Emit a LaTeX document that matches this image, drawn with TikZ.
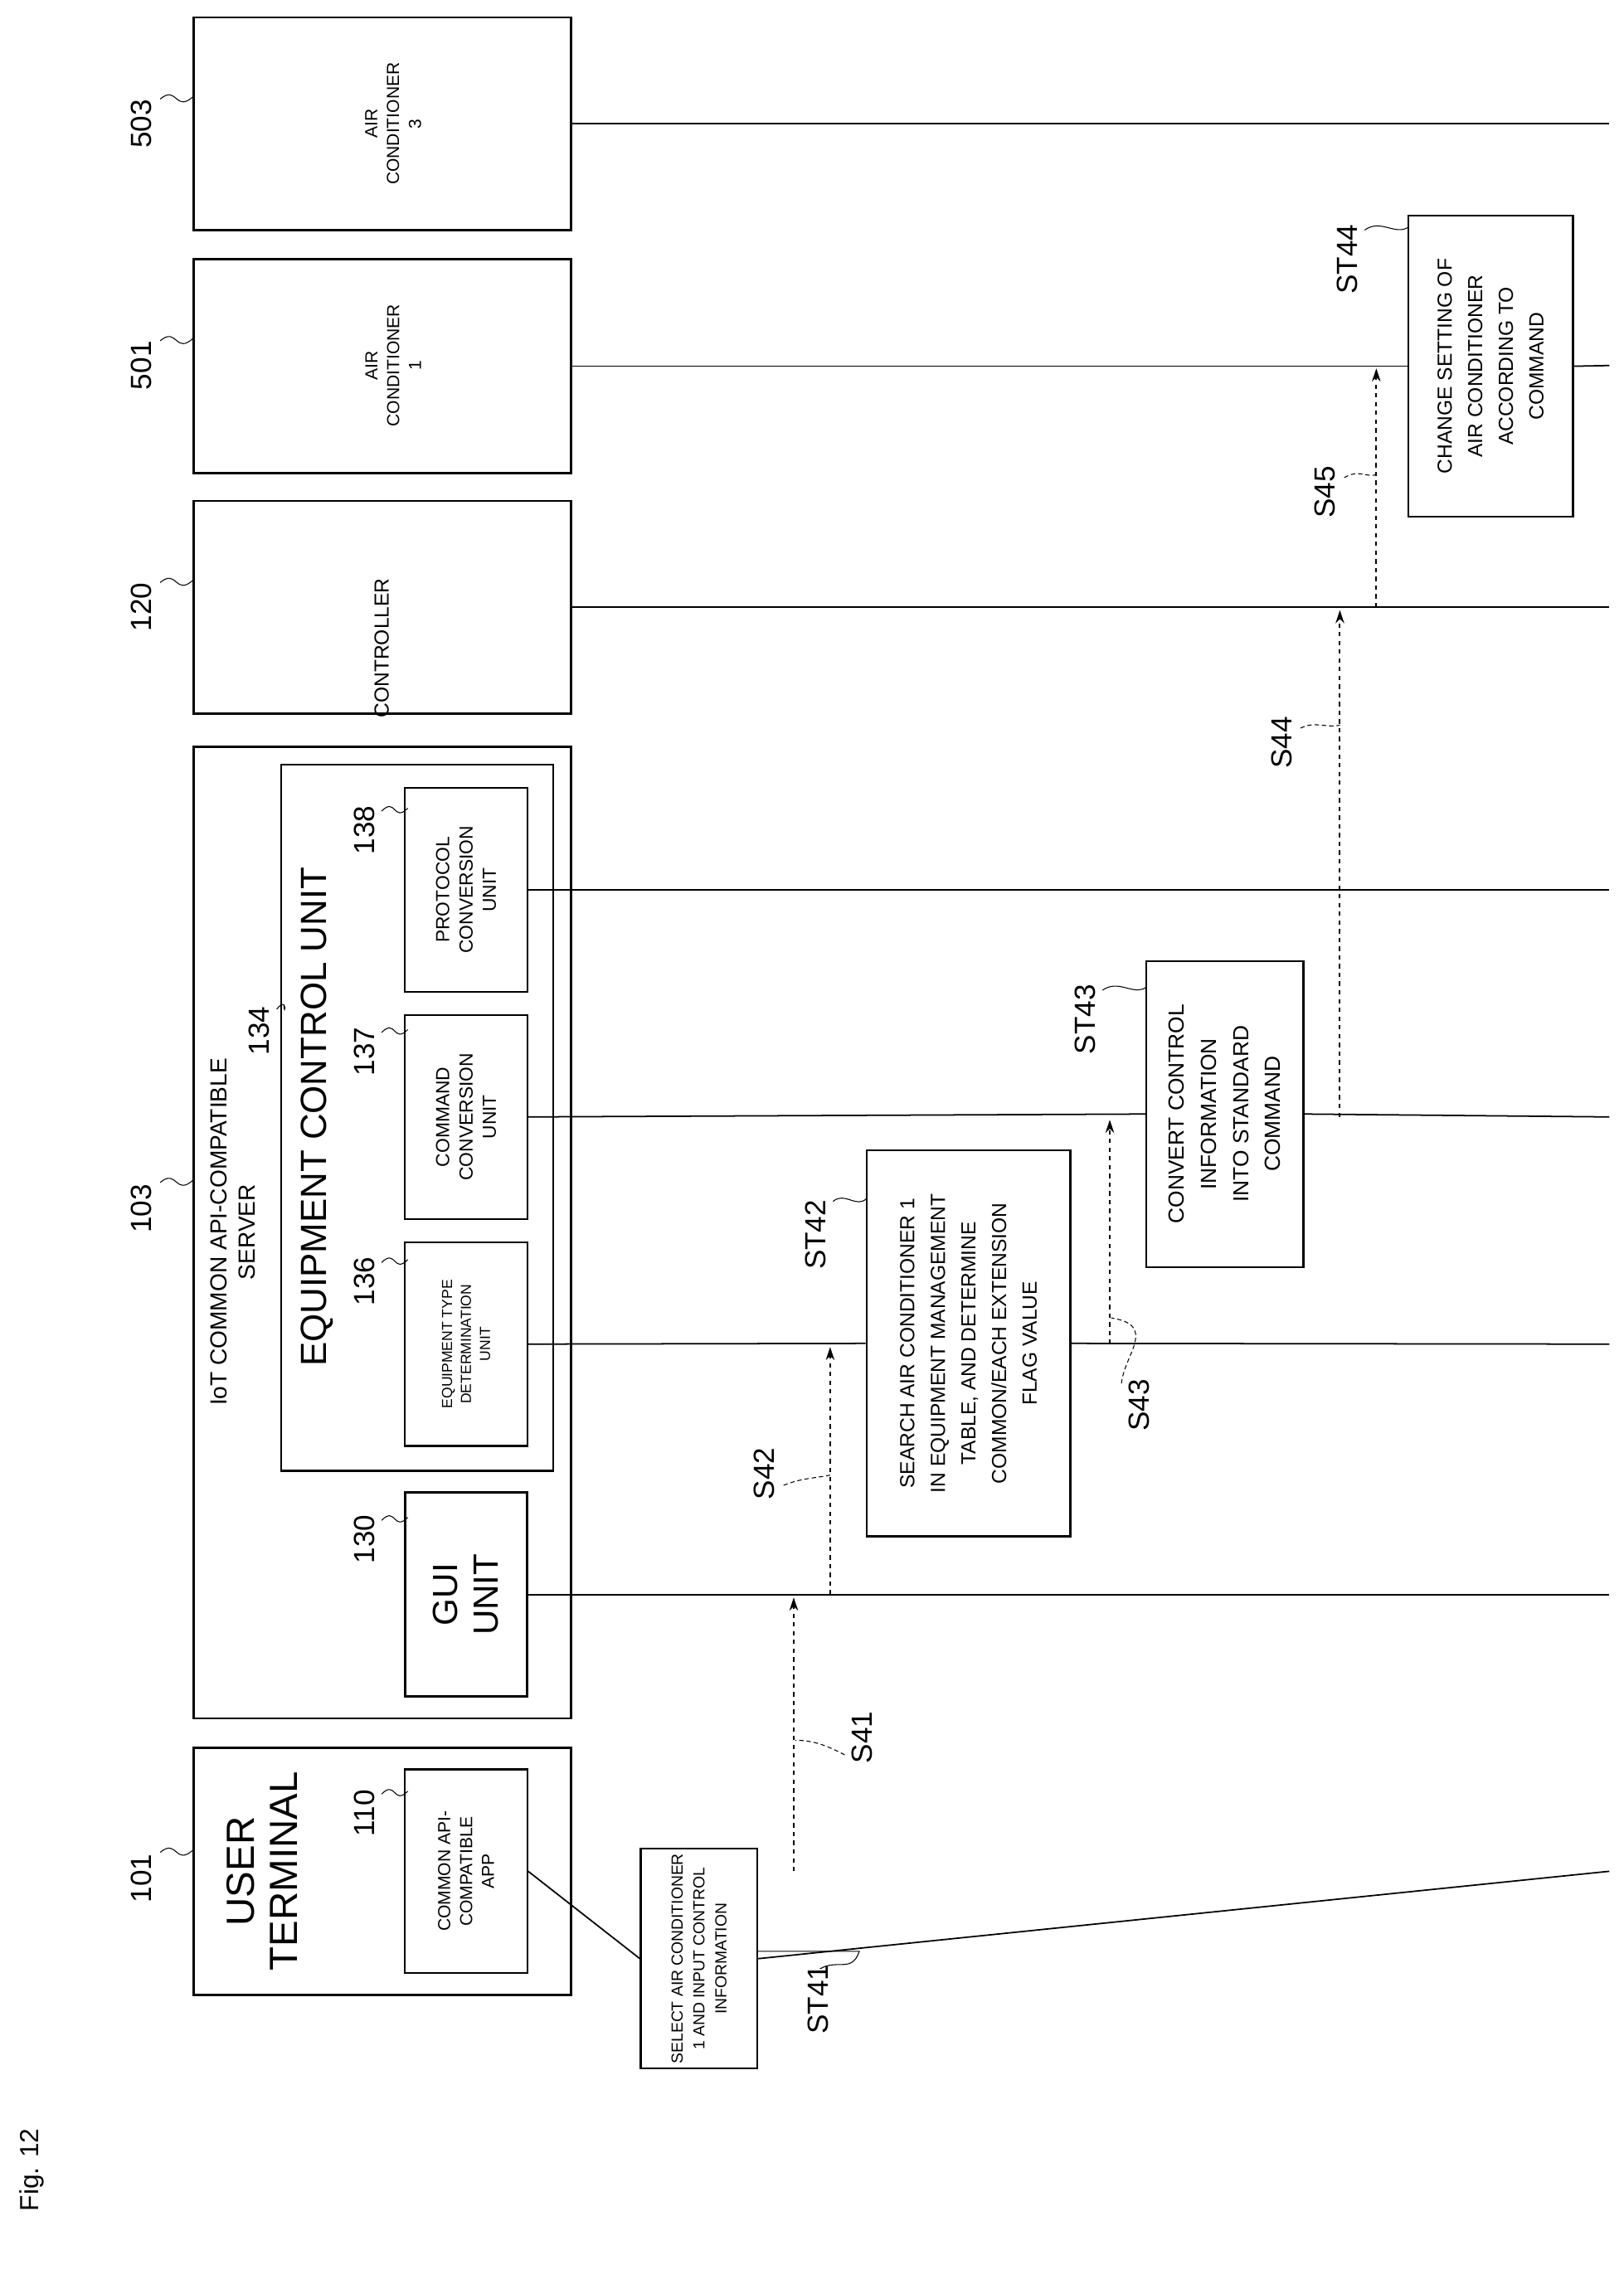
\documentclass[tikz,border=0pt]{standalone}
\usepackage{fontspec}
\setmainfont{Liberation Sans}
\usepackage{tikz}
\usetikzlibrary{arrows.meta}

\tikzset{
  unit/.style = {draw, line width=1.6pt, rotate=90, anchor=center},
  stepbox/.style = {draw, line width=1.3pt, rotate=90, align=center,
                 font=\fontsize{11}{15}\selectfont},
  life/.style = {line width=1pt},
  msg/.style  = {dashed, line width=1.1pt, -{Stealth[length=9pt,width=6pt]}},
  lead/.style = {line width=0.6pt},
  dlead/.style = {densely dashed, line width=0.6pt},
  ref/.style  = {rotate=90, font=\fontsize{20}{20}\selectfont}
}

\begin{document}
\begin{tikzpicture}[x=1pt,y=-1pt]
  \useasboundingbox (0,0) rectangle (1115,1565);

  % figure number
  \node[rotate=90, font=\fontsize{18}{18}\rmfamily] (fig) at (22,1490) {Fig. 12};

  % user terminal
  \node[unit, minimum width=170, minimum height=259] (user) at (262.5,1285) {};
  \node[rotate=90, align=center, font=\fontsize{27}{30}\selectfont] (userT) at (180,1285) {USER\\TERMINAL};
  \node[unit, line width=1.3pt, minimum width=140, minimum height=84, align=center,
        font=\fontsize{12}{15}\selectfont] (app) at (320,1285) {COMMON API-\\COMPATIBLE\\APP};

  % server
  \node[unit, minimum width=667, minimum height=259] (server) at (262.5,846.5) {};
  \node[rotate=90, align=center, font=\fontsize{16}{19}\selectfont] (serverT) at (160,846) {IoT COMMON API-COMPATIBLE\\SERVER};
  \node[unit, line width=1.8pt, minimum width=140, minimum height=84, align=center,
        font=\fontsize{24}{28}\selectfont] (gui) at (320,1095) {GUI\\UNIT};
  \node[unit, line width=1.3pt, minimum width=485, minimum height=187] (ecu) at (286.5,767.5) {};
  \node[rotate=90, font=\fontsize{25}{28}\selectfont] (ecuT) at (218,767) {EQUIPMENT CONTROL UNIT};
  \node[unit, line width=1.3pt, minimum width=140, minimum height=84, align=center,
        font=\fontsize{10}{13}\selectfont] (etd) at (320,923) {EQUIPMENT TYPE\\DETERMINATION\\UNIT};
  \node[unit, line width=1.3pt, minimum width=140, minimum height=84, align=center,
        font=\fontsize{13}{16}\selectfont] (ccu) at (320,767) {COMMAND\\CONVERSION\\UNIT};
  \node[unit, line width=1.3pt, minimum width=140, minimum height=84, align=center,
        font=\fontsize{13}{16}\selectfont] (pcu) at (320,611) {PROTOCOL\\CONVERSION\\UNIT};

  % controller and air conditioners
  \node[unit, minimum width=146, minimum height=259] (ctrl) at (262.5,417) {};
  \node[rotate=90, font=\fontsize{14}{17}\selectfont] (ctrlT) at (262,445) {CONTROLLER};
  \node[unit, minimum width=147, minimum height=259] (ac1) at (262.5,251.5) {};
  \node[rotate=90, align=center, font=\fontsize{12}{15}\selectfont] (ac1T) at (270,251) {AIR\\CONDITIONER\\1};
  \node[unit, minimum width=146, minimum height=259] (ac3) at (262.5,85) {};
  \node[rotate=90, align=center, font=\fontsize{12}{15}\selectfont] (ac3T) at (270,85) {AIR\\CONDITIONER\\3};

  % reference numbers with leaders
  \node[ref] (n101) at (97,1290) {101};
  \draw[lead] (110,1272) .. controls (122,1262) and (120,1282) .. (133,1270);
  \node[ref] (n110) at (250,1245) {110};
  \draw[lead] (262,1232) .. controls (272,1222) and (270,1240) .. (280,1230);
  \node[ref] (n103) at (97,830) {103};
  \draw[lead] (110,812) .. controls (122,802) and (120,822) .. (133,810);
  \node[ref] (n130) at (250,1057) {130};
  \draw[lead] (262,1044) .. controls (272,1034) and (270,1052) .. (280,1042);
  \node[ref] (n134) at (178,708) {134};
  \draw[lead] (190,693) .. controls (198,683) and (195,700) .. (195,690);
  \node[ref] (n136) at (250,880) {136};
  \draw[lead] (262,867) .. controls (272,857) and (270,875) .. (280,865);
  \node[ref] (n137) at (250,722) {137};
  \draw[lead] (262,709) .. controls (272,699) and (270,717) .. (280,707);
  \node[ref] (n138) at (250,570) {138};
  \draw[lead] (262,557) .. controls (272,547) and (270,565) .. (280,555);
  \node[ref] (n120) at (97,417) {120};
  \draw[lead] (110,400) .. controls (122,390) and (120,410) .. (133,398);
  \node[ref] (n501) at (97,251) {501};
  \draw[lead] (110,234) .. controls (122,224) and (120,244) .. (133,232);
  \node[ref] (n503) at (97,85) {503};
  \draw[lead] (110,68) .. controls (122,58) and (120,78) .. (133,66);

  % step boxes
  \node[stepbox, minimum width=110, minimum height=80] (st41) at (480,1345)
    {SELECT AIR CONDITIONER\\1 AND INPUT CONTROL\\INFORMATION};
  \node[stepbox, minimum width=265, minimum height=140, font=\fontsize{14}{21}\selectfont] (st42) at (665,922.5)
    {SEARCH AIR CONDITIONER 1\\IN EQUIPMENT MANAGEMENT\\TABLE, AND DETERMINE\\COMMON/EACH EXTENSION\\FLAG VALUE};
  \node[stepbox, minimum width=210, minimum height=108, font=\fontsize{15}{22}\selectfont] (st43) at (841,765)
    {CONVERT CONTROL\\INFORMATION\\INTO STANDARD\\COMMAND};
  \node[stepbox, minimum width=207, minimum height=113, font=\fontsize{14}{21}\selectfont] (st44) at (1023.5,251.5)
    {CHANGE SETTING OF\\AIR CONDITIONER\\ACCORDING TO\\COMMAND};

  % lifelines
  \draw[life] (app.south) -- (st41.north);
  \draw[life] (st41.south) -- (1105,1285);
  \draw[life] (gui.south) -- (1105,1095);
  \draw[life] (etd.south) -- (st42.north);
  \draw[life] (st42.south) -- (1105,923);
  \draw[life] (ccu.south) -- (st43.north);
  \draw[life] (st43.south) -- (1105,767);
  \draw[life] (pcu.south) -- (1105,611);
  \draw[life] (ctrl.south) -- (1105,417);
  \draw[life] (ac1.south) -- (st44.north);
  \draw[life] (st44.south) -- (1105,251);
  \draw[life] (ac3.south) -- (1105,85);

  % messages
  \draw[msg] (545,1285) -- (545,1097);
  \draw[msg] (570,1095) -- (570,925);
  \draw[msg] (762,923) -- (762,769);
  \draw[msg] (920,767) -- (920,419);
  \draw[msg] (945,417) -- (945,253);

  % step labels
  \node[ref] (lst41) at (562,1373) {ST41};
  \draw[lead] (563,1352) .. controls (575,1345) and (585,1355) .. (590,1340) -- (520,1340);
  \node[ref] (lst42) at (560,848) {ST42};
  \draw[lead] (572,825) .. controls (580,818) and (588,830) .. (595,823);
  \node[ref] (lst43) at (745,700) {ST43};
  \draw[lead] (757,680) .. controls (768,672) and (778,684) .. (787,678);
  \node[ref] (lst44) at (925,178) {ST44};
  \draw[lead] (937,158) .. controls (948,150) and (958,162) .. (967,156);
  \node[ref] (ls41) at (592,1193) {S41};
  \draw[dlead] (580,1205) .. controls (570,1200) and (560,1195) .. (546,1195);
  \node[ref] (ls42) at (525,1012) {S42};
  \draw[dlead] (538,1020) .. controls (550,1015) and (560,1015) .. (570,1013);
  \node[ref] (ls43) at (782,965) {S43};
  \draw[dlead] (770,950) .. controls (772,930) and (795,910) .. (763,905);
  \node[ref] (ls44) at (880,510) {S44};
  \draw[dlead] (893,500) .. controls (903,495) and (910,500) .. (920,498);
  \node[ref] (ls45) at (910,338) {S45};
  \draw[dlead] (923,328) .. controls (933,322) and (938,328) .. (945,326);
\end{tikzpicture}
\end{document}
